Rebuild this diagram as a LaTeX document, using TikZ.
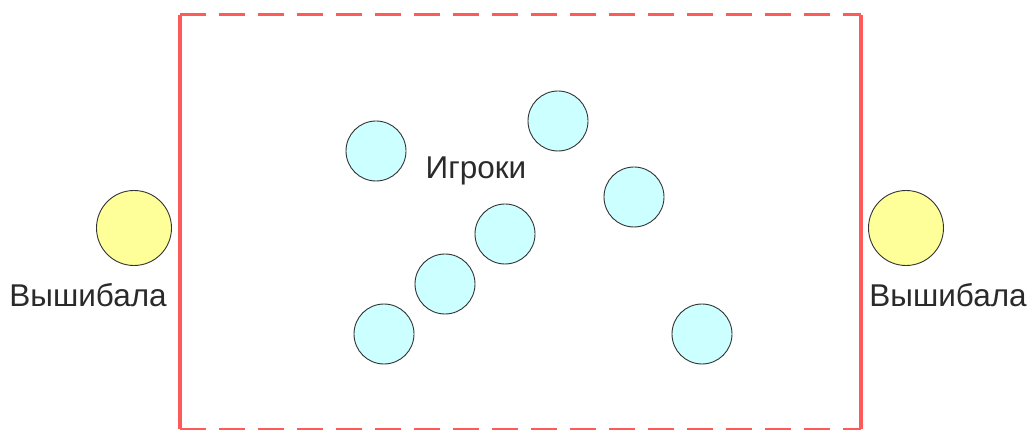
\documentclass[tikz,border=0pt]{standalone}
\usepackage{fontspec}
\setmainfont{Liberation Sans}
\definecolor{field}{HTML}{FF5A5A}
\definecolor{yel}{HTML}{FFFF99}
\definecolor{cy}{HTML}{CCFFFF}
\definecolor{txt}{HTML}{2A2A2A}
\tikzset{
  sideline/.style={draw=field, line width=4pt},
  dashline/.style={draw=field, line width=3pt, dash pattern=on 26pt off 13pt},
  thrower/.style={circle, draw=black!80, line width=0.9pt, fill=yel, minimum size=75pt, inner sep=0pt},
  player/.style={circle, draw=black!80, line width=0.9pt, fill=cy, minimum size=60pt, inner sep=0pt},
  lbl/.style={text=txt, font=\fontsize{31.5}{34}\selectfont, inner sep=0pt}
}
\begin{document}
\begin{tikzpicture}[x=1pt,y=-1pt]
\useasboundingbox (0,0) rectangle (1031,430);
\coordinate (tl) at (180,15);
\coordinate (tr) at (861,15);
\coordinate (bl) at (180,429);
\coordinate (br) at (861,429);
\draw[dashline] (tl) -- (tr);
\draw[dashline] (bl) -- (br);
\draw[sideline] (tl) -- (bl);
\draw[sideline] (tr) -- (br);
\node[thrower] (t1) at (134,228) {};
\node[thrower] (t2) at (906,228) {};
\node[lbl] (l1) at (88,295) {Вышибала};
\node[lbl] (l2) at (948,295) {Вышибала};
\node[player] (p1) at (376,151) {};
\node[player] (p2) at (558,121) {};
\node[player] (p3) at (634,197) {};
\node[player] (p4) at (505,234) {};
\node[player] (p5) at (445,284) {};
\node[player] (p6) at (384,334) {};
\node[player] (p7) at (702,334) {};
\node[lbl] (l3) at (476,171) {Игроки};
\end{tikzpicture}
\end{document}
